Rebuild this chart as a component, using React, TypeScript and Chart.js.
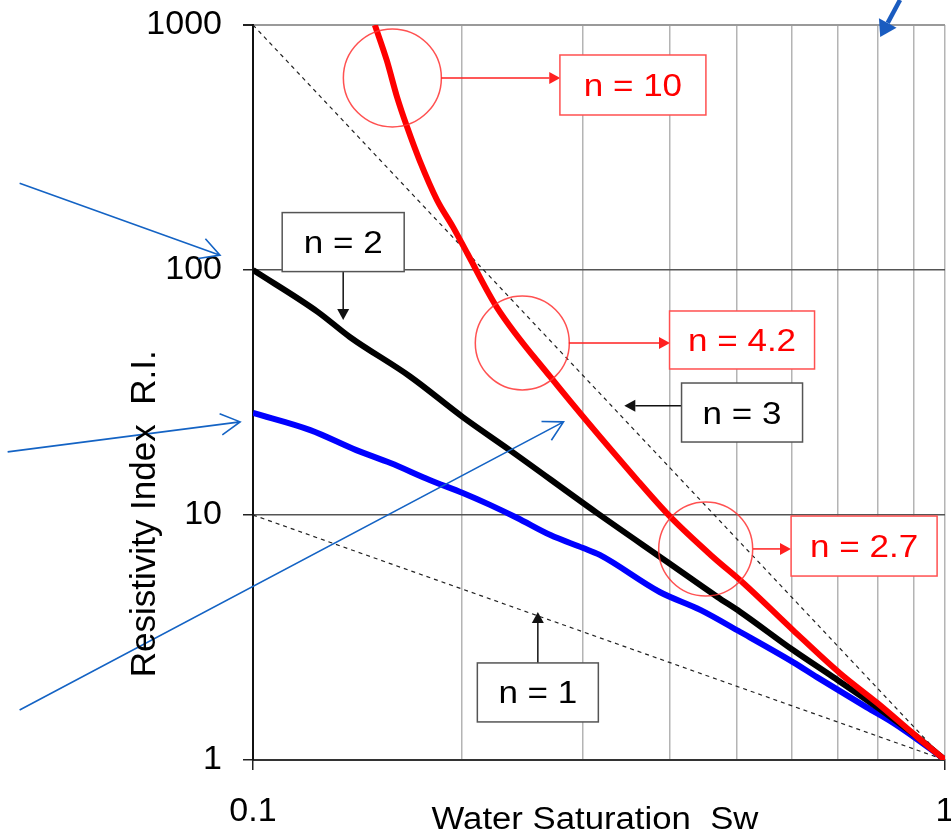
import React, { useEffect, useRef } from "react";
import { Chart, registerables } from "chart.js";

Chart.register(...registerables);

// ---------- data ----------
const xTicks = [0.1, 0.2, 0.3, 0.4, 0.5, 0.6, 0.7, 0.8, 0.9, 1];
const xLabelled = [0.1, 1];
const yTicks = [1, 10, 100, 1000];

const redSw = [0.15, 0.156, 0.1615, 0.167, 0.174, 0.1845, 0.1945, 0.204, 0.225, 0.269, 0.359, 0.401, 0.462, 0.511, 0.603, 0.705, 0.798, 0.912, 1];
const redRI = [1000, 720, 508, 383, 281, 193, 150, 117, 70.6, 36.6, 13.9, 9.82, 6.74, 5.28, 3.39, 2.26, 1.71, 1.24, 1];

const blackSw = [0.1, 0.124, 0.138, 0.169, 0.201, 0.235, 0.314, 0.397, 0.469, 0.506, 0.603, 0.689, 0.798, 0.912, 1];
const blackRI = [100, 67.5, 53.3, 36.6, 25.1, 18.4, 10.2, 6.43, 4.63, 4.02, 2.81, 2.18, 1.64, 1.24, 1];

const blueSw = [0.1, 0.121, 0.141, 0.158, 0.18, 0.201, 0.22, 0.241, 0.269, 0.3, 0.317, 0.387, 0.443, 0.506, 0.603, 0.653, 0.771, 0.841, 0.961, 1];
const blueRI = [26.1, 22.2, 18.4, 16.3, 13.9, 12.3, 11.0, 9.72, 8.28, 7.33, 6.87, 4.85, 4.1, 3.33, 2.51, 2.18, 1.64, 1.42, 1.09, 1];

const n3Sw = [0.1, 1];
const n3RI = [1000, 1];
const n1Sw = [0.1, 1];
const n1RI = [10, 1];

const xTitle = "Water Saturation  Sw";
const yTitle = "Resistivity Index  R.I.";

// ---------- annotations (data coordinates) ----------
const circles = [
  { x: 0.159, y: 608, r: 49 },
  { x: 0.245, y: 50.4, r: 47 },
  { x: 0.451, y: 7.27, r: 47 },
];
const labelBoxes = [
  { text: "n = 10", x: 0.354, y: 569, w: 146, h: 60, color: "red" },
  { text: "n = 4.2", x: 0.509, y: 51.8, w: 145, h: 58, color: "red" },
  { text: "n = 2.7", x: 0.764, y: 7.47, w: 146, h: 60, color: "red" },
  { text: "n = 2", x: 0.135, y: 130, w: 122, h: 59, color: "black" },
  { text: "n = 3", x: 0.509, y: 26.2, w: 121, h: 59, color: "black" },
  { text: "n = 1", x: 0.258, y: 1.887, w: 121, h: 59, color: "black" },
];
const pointers = [
  { x0: 0.187, y0: 608, x1: 0.278, y1: 608, color: "red" },
  { x0: 0.286, y0: 50.4, x1: 0.4005, y1: 50.4, color: "red" },
  { x0: 0.528, y0: 7.27, x1: 0.599, y1: 7.27, color: "red" },
  { x0: 0.135, y0: 98.1, x1: 0.135, y1: 62.5, color: "black" },
  { x0: 0.417, y0: 27.9, x1: 0.344, y1: 27.9, color: "black" },
  { x0: 0.258, y0: 2.49, x1: 0.258, y1: 4.02, color: "black" },
];
const blueArrows = [
  { x0: 0.046, y0: 226, x1: 0.0896, y1: 115 },
  { x0: 0.0442, y0: 18.1, x1: 0.0958, y1: 24 },
  { x0: 0.046, y0: 1.6, x1: 0.281, y1: 24 },
];
const topArrow = { x0: 0.861, y0: 1265, x1: 0.806, y1: 893 };

const FONT = '"Liberation Sans", Arial, Helvetica, sans-serif';

const toPts = (xs: number[], ys: number[]) => xs.map((v, i) => ({ x: v, y: ys[i] }));

function filledArrow(ctx: CanvasRenderingContext2D, x0: number, y0: number, x1: number, y1: number, color: string, lw: number, hl: number, hw: number) {
  const a = Math.atan2(y1 - y0, x1 - x0);
  const bx = x1 - Math.cos(a) * hl;
  const by = y1 - Math.sin(a) * hl;
  ctx.strokeStyle = color;
  ctx.fillStyle = color;
  ctx.lineWidth = lw;
  ctx.beginPath();
  ctx.moveTo(x0, y0);
  ctx.lineTo(bx, by);
  ctx.stroke();
  ctx.beginPath();
  ctx.moveTo(x1, y1);
  ctx.lineTo(bx + Math.sin(a) * hw / 2, by - Math.cos(a) * hw / 2);
  ctx.lineTo(bx - Math.sin(a) * hw / 2, by + Math.cos(a) * hw / 2);
  ctx.closePath();
  ctx.fill();
}

function openArrow(ctx: CanvasRenderingContext2D, x0: number, y0: number, x1: number, y1: number, color: string, lw: number, hl: number) {
  const a = Math.atan2(y1 - y0, x1 - x0);
  ctx.strokeStyle = color;
  ctx.lineWidth = lw;
  ctx.beginPath();
  ctx.moveTo(x0, y0);
  ctx.lineTo(x1, y1);
  const s = 0.5;
  ctx.moveTo(x1 - Math.cos(a - s) * hl, y1 - Math.sin(a - s) * hl);
  ctx.lineTo(x1, y1);
  ctx.lineTo(x1 - Math.cos(a + s) * hl, y1 - Math.sin(a + s) * hl);
  ctx.stroke();
}

function stretchedText(ctx: CanvasRenderingContext2D, text: string, cx: number, baseY: number, size: number, color: string, sx: number) {
  ctx.save();
  ctx.translate(cx, baseY);
  ctx.scale(sx, 1);
  ctx.font = `${size}px ${FONT}`;
  ctx.fillStyle = color;
  ctx.textAlign = "center";
  ctx.textBaseline = "alphabetic";
  ctx.fillText(text, 0, 0);
  ctx.restore();
}

const annotationPlugin = {
  id: "annotations",
  afterDatasetsDraw(chart: any) {
    const ctx: CanvasRenderingContext2D = chart.ctx;
    const xs = chart.scales.x;
    const ys = chart.scales.y;
    const px = (v: number) => xs.getPixelForValue(v);
    const py = (v: number) => ys.getPixelForValue(v);
    ctx.save();
    ctx.strokeStyle = "rgba(255,50,50,0.85)";
    ctx.lineWidth = 1.5;
    for (const c of circles) {
      ctx.beginPath();
      ctx.arc(px(c.x), py(c.y), c.r, 0, Math.PI * 2);
      ctx.stroke();
    }
    for (const p of pointers) {
      const col = p.color === "red" ? "#ff2020" : "#111";
      filledArrow(ctx, px(p.x0), py(p.y0), px(p.x1), py(p.y1), col, 1.5, 11, 12);
    }
    for (const b of labelBoxes) {
      const cx = px(b.x);
      const cy = py(b.y);
      ctx.fillStyle = "#fff";
      ctx.fillRect(cx - b.w / 2, cy - b.h / 2, b.w, b.h);
      ctx.strokeStyle = b.color === "red" ? "#ff5050" : "#555";
      ctx.lineWidth = 1.5;
      ctx.strokeRect(cx - b.w / 2, cy - b.h / 2, b.w, b.h);
      stretchedText(ctx, b.text, cx, cy + 11, 31, b.color === "red" ? "#ff0000" : "#000", 1.13);
    }
    for (const a of blueArrows) {
      openArrow(ctx, px(a.x0), py(a.y0), px(a.x1), py(a.y1), "#1463c4", 1.6, 22);
    }
    filledArrow(ctx, px(topArrow.x0), py(topArrow.y0), px(topArrow.x1), py(topArrow.y1), "#1a5cc0", 4.5, 16, 20);
    ctx.restore();
  },
  afterDraw(chart: any) {
    const ctx: CanvasRenderingContext2D = chart.ctx;
    const area = chart.chartArea;
    ctx.save();
    stretchedText(ctx, xTitle, (area.left + area.right) / 2 - 4, 829, 31, "#000", 1.12);
    ctx.translate(155, area.bottom - 0.335 * (area.bottom - area.top));
    ctx.rotate(-Math.PI / 2);
    ctx.font = `35px ${FONT}`;
    ctx.fillStyle = "#000";
    ctx.textAlign = "center";
    ctx.textBaseline = "alphabetic";
    ctx.fillText(yTitle, 0, 0);
    ctx.restore();
  },
};

export default function App() {
  const canvasRef = useRef<HTMLCanvasElement | null>(null);

  useEffect(() => {
    const canvas = canvasRef.current;
    if (!canvas) return;
    const lineBase = { pointRadius: 0, pointHoverRadius: 0, fill: false };
    const chart = new Chart(canvas, {
      type: "line",
      data: {
        datasets: [
          { ...lineBase, label: "n=10 curve", data: toPts(redSw, redRI), borderColor: "#ff0000", borderWidth: 6, cubicInterpolationMode: "monotone" },
          { ...lineBase, label: "n=2", data: toPts(blackSw, blackRI), borderColor: "#000000", borderWidth: 6, cubicInterpolationMode: "monotone" },
          { ...lineBase, label: "blue", data: toPts(blueSw, blueRI), borderColor: "#0000ff", borderWidth: 6, cubicInterpolationMode: "monotone" },
          { ...lineBase, label: "n=3", data: toPts(n3Sw, n3RI), borderColor: "#222", borderWidth: 1.2, borderDash: [4, 4] },
          { ...lineBase, label: "n=1", data: toPts(n1Sw, n1RI), borderColor: "#222", borderWidth: 1.2, borderDash: [4, 4] },
        ],
      } as any,
      options: {
        responsive: false,
        animation: false,
        devicePixelRatio: 1,
        layout: { padding: { top: 25, right: 6, bottom: 0, left: 0 } },
        plugins: { legend: { display: false }, tooltip: { enabled: false } },
        events: [],
        scales: {
          x: {
            type: "logarithmic",
            min: 0.1,
            max: 1,
            afterBuildTicks: (scale: any) => {
              scale.ticks = xTicks.map((v) => ({ value: v }));
            },
            afterFit: (scale: any) => {
              scale.height = 76;
              scale.paddingLeft = 0;
              scale.paddingRight = 0;
            },
            ticks: {
              autoSkip: false,
              maxRotation: 0,
              minRotation: 0,
              padding: 21,
              color: "#000",
              font: { family: FONT, size: 34 },
              callback: (value: any) => (xLabelled.includes(Number(value)) ? String(value) : ""),
            },
            grid: {
              color: (c: any) => (c.tick && c.tick.value === 0.1 ? "rgba(0,0,0,0)" : "#b4b4b4"),
              lineWidth: 1.5,
              tickColor: (c: any) => (c.tick && xLabelled.includes(c.tick.value) ? "#222" : "rgba(0,0,0,0)"),
              tickLength: 10,
              drawTicks: true,
            },
            border: { color: "#333", width: 2 },
          },
          y: {
            type: "logarithmic",
            min: 1,
            max: 1000,
            afterBuildTicks: (scale: any) => {
              scale.ticks = yTicks.map((v) => ({ value: v }));
            },
            afterFit: (scale: any) => {
              scale.width = 253;
              scale.paddingTop = 0;
              scale.paddingBottom = 0;
            },
            ticks: {
              padding: 21,
              color: "#000",
              font: { family: FONT, size: 34 },
              callback: (value: any) => String(value),
            },
            grid: {
              color: (c: any) => {
                const v = c.tick && c.tick.value;
                if (v === 1000) return "#9a9a9a";
                if (v === 1) return "rgba(0,0,0,0)";
                return "#555";
              },
              lineWidth: (c: any) => (c.tick && c.tick.value === 1000 ? 2 : 1.5),
              tickColor: "#222",
              tickLength: 10,
              drawTicks: true,
            },
            border: { color: "#111", width: 2 },
          },
        },
      } as any,
      plugins: [annotationPlugin],
    });
    return () => chart.destroy();
  }, []);

  return (
    <div style={{ position: "absolute", left: 0, top: 0, width: 951, height: 836, background: "#fff" }}>
      <canvas ref={canvasRef} width={951} height={836} style={{ display: "block" }} />
    </div>
  );
}
